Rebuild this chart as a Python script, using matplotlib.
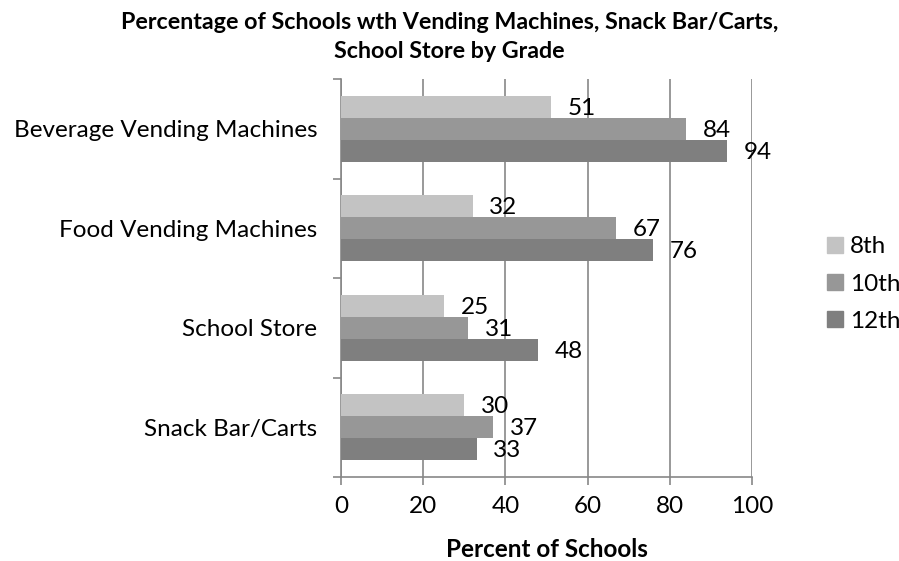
import numpy as np
import matplotlib.pyplot as plt
from matplotlib.patches import Patch

categories = ['Beverage Vending Machines', 'Food Vending Machines', 'School Store', 'Snack Bar/Carts']
grades = ['8th', '10th', '12th']
grade8 = [51, 32, 25, 30]
grade10 = [84, 67, 31, 37]
grade12 = [94, 76, 48, 33]
colors = ['#c3c3c3', '#979797', '#7f7f7f']

plt.rcParams['font.family'] = ['Lato', 'DejaVu Sans']

fig = plt.figure(figsize=(8.99, 5.61), dpi=100)
ax = fig.add_axes([341/899, 1 - 477/561, (752 - 341)/899, (477 - 79)/561])

y = np.arange(len(categories))[::-1].astype(float)
h = 0.22
series = [grade8, grade10, grade12]
offsets = [h, 0, -h]
for vals, off, col in zip(series, offsets, colors):
    bars = ax.barh(y + off, vals, height=h, color=col, zorder=3)
    for b, v in zip(bars, vals):
        ax.annotate(str(v), (b.get_width(), b.get_y() + b.get_height() / 2),
                    xytext=(12, -1), textcoords='offset points',
                    va='center', ha='left', fontsize=17.5, color='black', zorder=4)

ax.set_xlim(0, 100)
ax.set_ylim(-0.5, len(categories) - 0.5)
ax.set_xticks(range(0, 101, 20))
ax.set_yticks(y)
ax.set_yticklabels(categories)
ax.set_yticks(np.arange(-0.5, len(categories), 1.0), minor=True)

ax.grid(axis='x', color='#878787', linewidth=1.2, zorder=0)
for side in ['top', 'right']:
    ax.spines[side].set_visible(False)
for side in ['left', 'bottom']:
    ax.spines[side].set_color('#878787')
    ax.spines[side].set_linewidth(1.2)

ax.tick_params(axis='y', which='major', length=0, pad=17, labelsize=17.5)
ax.tick_params(axis='y', which='minor', length=6, color='#878787', width=1.2)
ax.tick_params(axis='x', length=6, color='#878787', width=1.2, pad=8, labelsize=17.5)

ax.set_xlabel('Percent of Schools', fontsize=17.5, fontweight='bold', labelpad=15)
fig.text(0.5, 1 - 12/561, 'Percentage of Schools wth Vending Machines, Snack Bar/Carts,\nSchool Store by Grade',
         fontsize=16.75, fontweight='bold', ha='center', va='top', linespacing=1.45)

handles = [Patch(color=c) for c in colors]
fig.legend(handles, grades, loc='center left', bbox_to_anchor=(827/899, 1 - 284/561),
           frameon=False, fontsize=17.5, handlelength=0.65, handleheight=0.65,
           handletextpad=0.3, labelspacing=0.66, borderpad=0, borderaxespad=0)

fig.savefig('out.png', dpi=100)
